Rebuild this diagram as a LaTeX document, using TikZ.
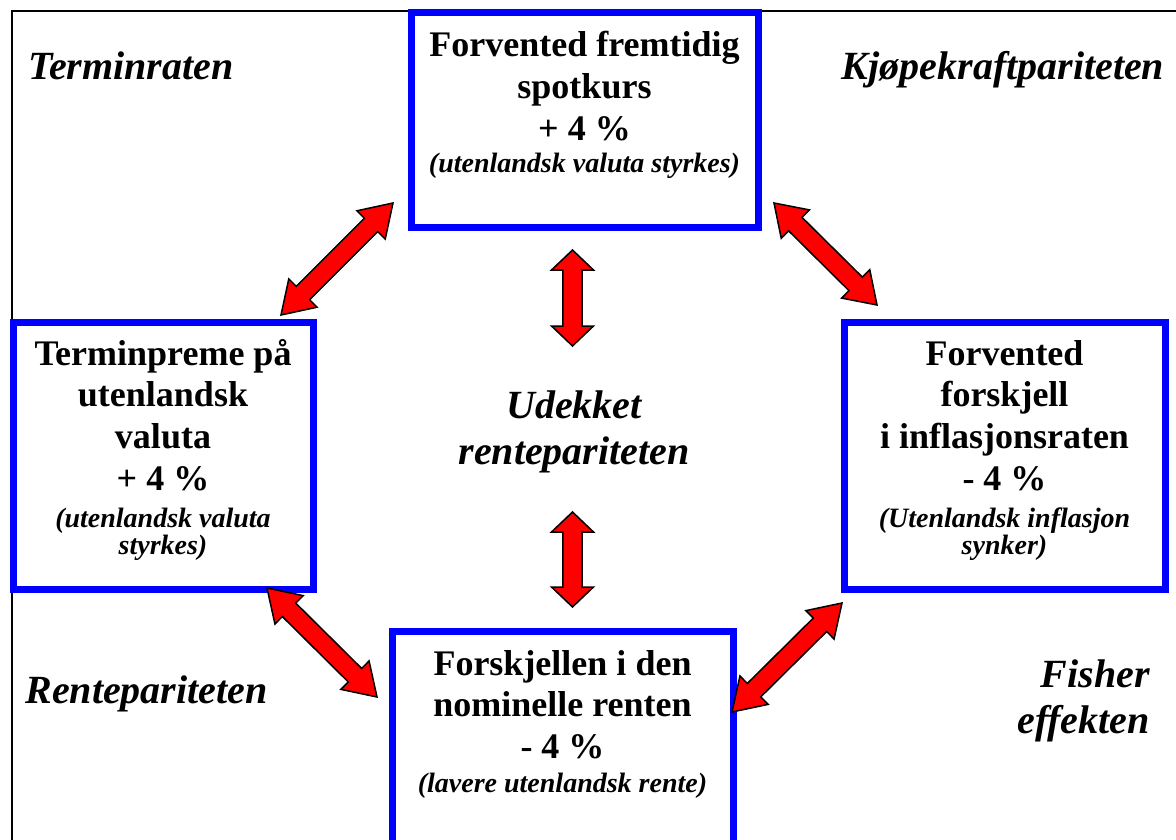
\documentclass[tikz,border=0pt]{standalone}
\usepackage{fontspec}
\setmainfont{Liberation Serif}
\usetikzlibrary{calc}
\newcommand\fixsp{\spaceskip=0pt\xspaceskip=0pt\centering}
\tikzset{
  bluebox/.style={draw=blue, line width=7pt, fill=white, inner sep=0pt},
  boldtext/.style={anchor=base, inner sep=0pt, align=center, text width=#1, font=\fontsize{36}{41.7}\selectfont\bfseries},
  itext/.style={anchor=base, inner sep=0pt, align=center, text width=#1, font=\fontsize{28}{27}\selectfont\bfseries\itshape},
  corner/.style={anchor=base, inner sep=0pt, font=\fontsize{40}{46}\selectfont\bfseries\itshape},
  arrowbox/.style={fill=red, draw=black, line width=1.5pt, line join=miter},
  frameline/.style={draw=black, line width=2pt},
}
\newcommand\blockarrow[5]{%
  \path let \p1=(#1), \p2=(#2) in \pgfextra{%
    \pgfmathsetmacro\baang{atan2(\y2-\y1,\x2-\x1)}%
    \pgfmathsetmacro\balen{veclen(\x2-\x1,\y2-\y1)}%
    \xdef\baangG{\baang}\xdef\balenG{\balen}};
  \begin{scope}[shift={(#1)}, rotate=\baangG, x=1pt, y=1pt]
    \draw[arrowbox] (0,0) -- (#3,#4) -- (#3,#5) -- ({\balenG-#3},#5) -- ({\balenG-#3},#4)
      -- (\balenG,0) -- ({\balenG-#3},-#4) -- ({\balenG-#3},-#5) -- (#3,-#5) -- (#3,-#4) -- cycle;
  \end{scope}}
\begin{document}
\begin{tikzpicture}[x=1pt, y=-1pt]
\useasboundingbox (0,0) rectangle (1176,840);
\clip (0,0) rectangle (1176,840);
\fill[white] (0,0) rectangle (1176,840);
% outer frame (extends beyond the picture on the right and bottom)
\draw[frameline] (11.5,860) -- (11.5,11.5) -- (1190,11.5);

% boxes
\node[bluebox, minimum width=347pt, minimum height=214pt] (spot) at (584.5,120) {};
\node[bluebox, minimum width=300pt, minimum height=267pt] (termin) at (163,455.5) {};
\node[bluebox, minimum width=321pt, minimum height=267pt] (infl) at (1004.5,455.5) {};
\node[bluebox, minimum width=341pt, minimum height=239pt] (rente) at (562.5,750.5) {};

% box texts
\node[boldtext=335pt] (spotB) at (584.5,57) {\fixsp\mbox{Forvented fremtidig}\\\mbox{spotkurs}\\\mbox{+ 4 \%}};
\node[itext=335pt] (spotI) at (584.5,173) {\fixsp\mbox{(utenlandsk valuta styrkes)}};
\node[boldtext=290pt] (terminB) at (163,365) {\fixsp\mbox{Terminpreme på}\\\mbox{utenlandsk}\\\mbox{valuta}\\\mbox{+ 4 \%}};
\node[itext=290pt] (terminI) at (163,527) {\fixsp\mbox{(utenlandsk valuta}\\\mbox{styrkes)}};
\node[boldtext=310pt] (inflB) at (1004.5,365) {\fixsp\mbox{Forvented}\\\mbox{forskjell}\\\mbox{i inflasjonsraten}\\\mbox{- 4 \%}};
\node[itext=310pt] (inflI) at (1004.5,527) {\fixsp\mbox{(Utenlandsk inflasjon}\\\mbox{synker)}};
\node[boldtext=330pt] (renteB) at (562.5,675) {\fixsp\mbox{Forskjellen i den}\\\mbox{nominelle renten}\\\mbox{- 4 \%}};
\node[itext=330pt] (renteI) at (562.5,792) {\fixsp\mbox{(lavere utenlandsk rente)}};

% corner labels
\node[corner, anchor=base west] (lblTerm) at (28,80) {Terminraten};
\node[corner] (lblKjop) at (1003,80) {Kjøpekraftpariteten};
\node[corner] (lblRente) at (146.5,703) {Rentepariteten};
\node[corner, text width=200pt, align=right, anchor=base east] (lblFisher) at (1150,687) {Fisher\\effekten};
\node[corner, text width=300pt, align=center] (lblUdekket) at (574,418) {Udekket\\rentepariteten};

% arrow end points
\coordinate (a1s) at (281,315); \coordinate (a1e) at (393,203);
\coordinate (a2s) at (774,203); \coordinate (a2e) at (877,305);
\coordinate (a3s) at (267,588); \coordinate (a3e) at (377,697);
\coordinate (a4s) at (732,712); \coordinate (a4e) at (842,603);
\coordinate (v1s) at (572.5,250); \coordinate (v1e) at (572.5,346);
\coordinate (v2s) at (572.5,512); \coordinate (v2e) at (572.5,607);

\blockarrow{a1s}{a1e}{31}{20}{9.5}
\blockarrow{a2s}{a2e}{30}{20}{9.5}
\blockarrow{a3s}{a3e}{31}{20}{9.5}
\blockarrow{a4s}{a4e}{31}{20}{9.5}
\blockarrow{v1s}{v1e}{20}{21}{9.7}
\blockarrow{v2s}{v2e}{20}{21}{9.7}
\end{tikzpicture}
\end{document}
